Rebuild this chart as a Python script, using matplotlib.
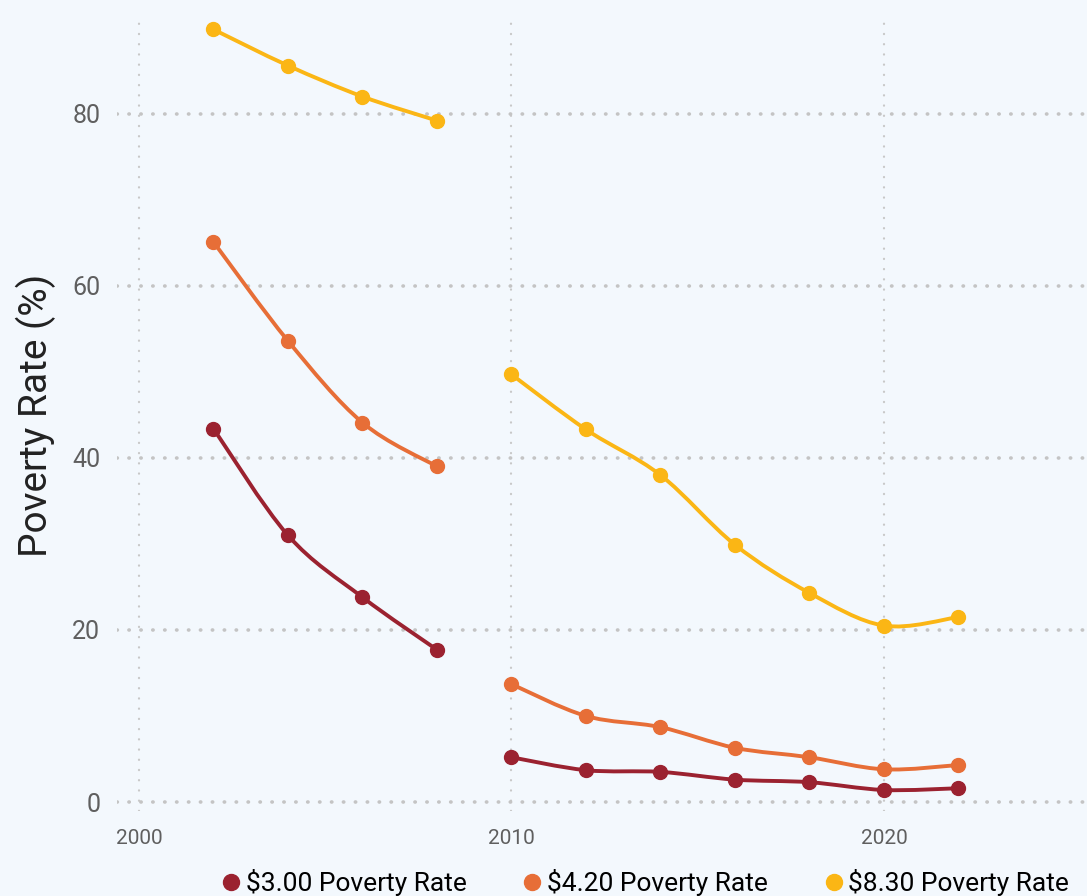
import numpy as np
import matplotlib.pyplot as plt
from matplotlib.path import Path
from matplotlib.patches import PathPatch

plt.rcParams['font.family'] = ['Roboto', 'DejaVu Sans']

years = [2002, 2004, 2006, 2008, 2010, 2012, 2014, 2016, 2018, 2020, 2022]
rate_300 = [43.4, 31.0, 23.8, 17.7, 5.2, 3.7, 3.5, 2.6, 2.3, 1.4, 1.6]
rate_420 = [65.1, 53.6, 44.1, 39.0, 13.7, 10.0, 8.7, 6.3, 5.2, 3.8, 4.3]
rate_830 = [89.8, 85.6, 82.0, 79.2, 49.7, 43.3, 38.0, 29.9, 24.3, 20.5, 21.5]
# the survey series breaks between 2008 and 2010
segments = [(0, 4), (4, 11)]

names = ["$3.00 Poverty Rate", "$4.20 Poverty Rate", "$8.30 Poverty Rate"]
colors = ["#9b2230", "#e76e37", "#fbb615"]
bg = "#f3f8fd"


def smooth_path(x, y, t=0.5):
    # catmull-rom style bezier through the points
    x = np.asarray(x, float)
    y = np.asarray(y, float)
    verts = [(x[0], y[0])]
    codes = [Path.MOVETO]
    n = len(x)
    for i in range(n - 1):
        p0 = np.array([x[max(i - 1, 0)], y[max(i - 1, 0)]])
        p1 = np.array([x[i], y[i]])
        p2 = np.array([x[i + 1], y[i + 1]])
        p3 = np.array([x[min(i + 2, n - 1)], y[min(i + 2, n - 1)]])
        c1 = p1 + (p2 - p0) * t / 3
        c2 = p2 - (p3 - p1) * t / 3
        verts += [tuple(c1), tuple(c2), tuple(p2)]
        codes += [Path.CURVE4] * 3
    return Path(verts, codes)


fig = plt.figure(figsize=(10.87, 8.96), dpi=100, facecolor=bg)
ax = fig.add_axes([0.1076, 0.0953, 0.8924, 0.8824])
ax.set_facecolor(bg)

for vals, name, c in zip([rate_300, rate_420, rate_830], names, colors):
    for a, b in segments:
        ax.add_patch(PathPatch(smooth_path(years[a:b], vals[a:b]), fill=False,
                               edgecolor=c, lw=2.8, capstyle='round', zorder=3))
    ax.plot(years, vals, 'o', color=c, ms=10, label=name, zorder=4)

ax.set_xlim(1999.41, 2025.45)
ax.set_ylim(-1, 90.9)
ax.set_xticks([2000, 2010, 2020])
ax.set_yticks([0, 20, 40, 60, 80])
ax.grid(axis='y', color='#c4c4c4', linestyle=(0, (0.1, 3.2)), lw=2.6,
        dash_capstyle='round')
ax.grid(axis='x', color='#c8c8c8', linestyle=(0, (0.1, 4.5)), lw=1.6,
        dash_capstyle='round')
ax.set_axisbelow(True)
for s in ax.spines.values():
    s.set_visible(False)
ax.tick_params(length=0)
ax.tick_params(axis='y', labelsize=18, labelcolor='#5f5f5f', pad=12)
ax.tick_params(axis='x', labelsize=15, labelcolor='#5f5f5f', pad=13)
ax.set_ylabel("Poverty Rate (%)", fontsize=28, color='#222222', labelpad=12)

fig.legend(loc='center', bbox_to_anchor=(0.592, 0.015), ncol=3, frameon=False,
           fontsize=19, handletextpad=0.05, columnspacing=2.0, markerscale=1.15,
           handlelength=1.0)

fig.savefig("out.png", dpi=100, facecolor=bg)
